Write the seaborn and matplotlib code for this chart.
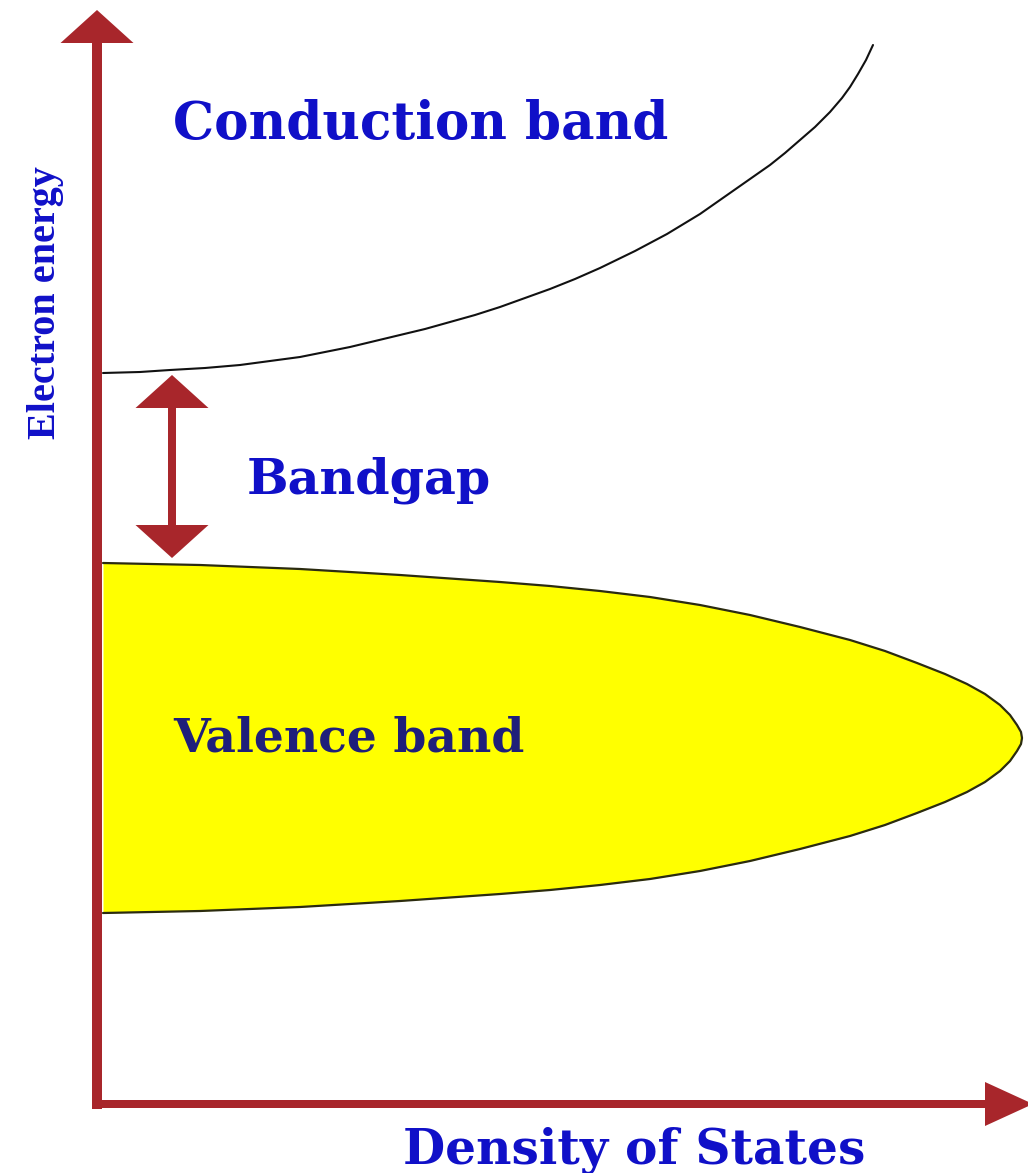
import numpy as np
import pandas as pd
import seaborn as sns
import matplotlib.pyplot as plt

# conduction band edge (density of states grows above the gap)
cond_x = [103, 140, 170, 205, 240, 270, 300, 325, 350, 375, 400, 425, 450, 475, 500, 525, 550,
          575, 600, 635, 667, 700, 730, 750, 770, 785, 800, 815, 830, 842, 850, 858, 866, 873]
cond_y = [373, 372, 370, 368, 365, 361, 357, 352, 347, 341, 335, 329, 322, 315, 307, 298, 289,
          279, 268, 251, 234, 214, 193, 179, 165, 153, 140, 127, 112, 98, 87, 74, 60, 45]

# valence band outline, from top of the band down to its bottom
val_x = [103, 200, 300, 400, 500, 550, 600, 650, 700, 750, 800, 850, 885, 917, 945, 967, 985,
         1000, 1010, 1017, 1021, 1022, 1021, 1017, 1010, 1000, 985, 967, 945, 917, 885, 850,
         800, 750, 700, 650, 600, 550, 500, 400, 300, 200, 103]
val_y = [563, 565, 569, 575, 582, 586, 591, 597, 605, 615, 627, 640, 651, 663, 674, 684, 694,
         705, 715, 725, 732, 738, 744, 751, 761, 771, 782, 792, 802, 813, 825, 836,
         849, 861, 871, 879, 885, 890, 894, 901, 907, 911, 913]

labels = ["Conduction band", "Bandgap", "Valence band", "Density of States", "Electron energy"]

axis_red = "#a8262b"
blue = "#1010c8"
navy = "#1f1f7a"

sns.set_theme(style="white")

fig = plt.figure(figsize=(10.28, 11.73), dpi=100)
ax = fig.add_axes([0, 0, 1, 1])
ax.set_xlim(0, 1028)
ax.set_ylim(1173, 0)
ax.axis("off")

val = pd.DataFrame({"x": val_x, "y": val_y})
ax.fill_betweenx(val["y"], 103, val["x"], color="#ffff00", lw=0, zorder=1)
sns.lineplot(data=val, x="x", y="y", sort=False, estimator=None, errorbar=None,
             color="#2b2b10", lw=1.6, ax=ax, zorder=2)

cond = pd.DataFrame({"x": cond_x, "y": cond_y})
sns.lineplot(data=cond, x="x", y="y", sort=False, estimator=None, errorbar=None,
             color="#111111", lw=1.5, ax=ax, zorder=2)

# axes arrows
ax.arrow(97, 1109, 0, -1099, width=10, head_width=73, head_length=33,
         length_includes_head=True, color=axis_red, lw=0, zorder=3)
ax.arrow(92, 1104, 941, 0, width=8, head_width=44, head_length=48,
         length_includes_head=True, color=axis_red, lw=0, zorder=3)

# bandgap double arrow
ax.arrow(172, 467, 0, -92, width=8, head_width=73, head_length=33,
         length_includes_head=True, color=axis_red, lw=0, zorder=3)
ax.arrow(172, 466, 0, 92, width=8, head_width=73, head_length=33,
         length_includes_head=True, color=axis_red, lw=0, zorder=3)

ax.text(173, 125, labels[0], family="DejaVu Serif", weight="bold", fontsize=37.3,
        color=blue, ha="left", va="center")
ax.text(247, 480, labels[1], family="DejaVu Serif", weight="bold", fontsize=35.5,
        color=blue, ha="left", va="center")
ax.text(173, 738, labels[2], family="DejaVu Serif", weight="bold", fontsize=34,
        color=navy, ha="left", va="center")
ax.text(634, 1150, labels[3], family="DejaVu Serif", weight="bold", fontsize=35,
        color=blue, ha="center", va="center")
ax.text(46, 303, labels[4], family="Liberation Serif", weight="bold", fontsize=29,
        color=blue, ha="center", va="center", rotation=90)

fig.savefig("out.png", dpi=100)
